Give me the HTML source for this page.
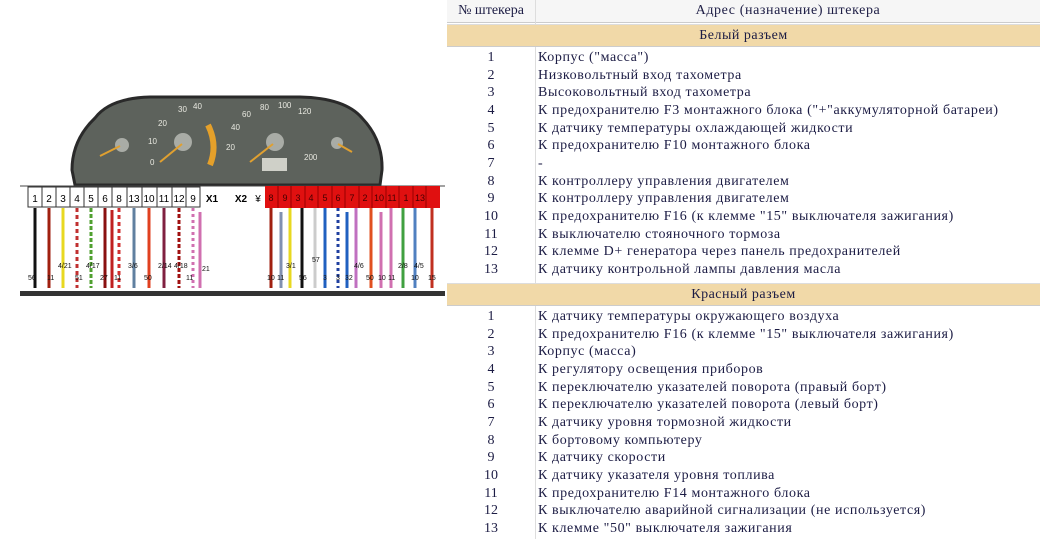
<!DOCTYPE html>
<html><head><meta charset="utf-8"><style>
body{margin:0;width:1040px;height:539px;background:#fff;position:relative;overflow:hidden;font-family:"Liberation Serif","DejaVu Serif",serif;color:#1c1c44}
.t{position:absolute;font-size:14px;letter-spacing:0.6px;line-height:17.67px;white-space:nowrap}
.n{position:absolute;left:447px;width:88px;text-align:center;font-size:14px;line-height:17.67px}
.band{position:absolute;left:447px;width:593px;height:21px;background:#f1d9a8;text-align:center;font-size:14px;letter-spacing:0.5px;line-height:21px;border-top:1px solid #ddd;border-bottom:1px solid #ccc}
</style></head><body>
<div style="position:absolute;left:447px;top:0;width:593px;height:22px;background:#f6f6f6;border-bottom:1px solid #ccc"></div>
<div style="position:absolute;left:535px;top:0;width:1px;height:539px;background:#ddd"></div>
<div class="t" style="left:447px;width:88px;text-align:center;top:2px;letter-spacing:0">№ штекера</div>
<div class="t" style="left:536px;width:504px;text-align:center;top:2px">Адрес (назначение) штекера</div>
<div class="band" style="top:24px">Белый разъем</div>
<div class="band" style="top:283px">Красный разъем</div>
<div style="position:absolute;top:49px;left:0">
<div class="n" style="top:0">1</div><div class="t" style="left:538px;top:0">Корпус ("масса")</div>
<div class="n" style="top:17.67px">2</div><div class="t" style="left:538px;top:17.67px">Низковольтный вход тахометра</div>
<div class="n" style="top:35.33px">3</div><div class="t" style="left:538px;top:35.33px">Высоковольтный вход тахометра</div>
<div class="n" style="top:53px">4</div><div class="t" style="left:538px;top:53px">К предохранителю F3 монтажного блока ("+"аккумуляторной батареи)</div>
<div class="n" style="top:70.67px">5</div><div class="t" style="left:538px;top:70.67px">К датчику температуры охлаждающей жидкости</div>
<div class="n" style="top:88.33px">6</div><div class="t" style="left:538px;top:88.33px">К предохранителю F10 монтажного блока</div>
<div class="n" style="top:106px">7</div><div class="t" style="left:538px;top:106px">-</div>
<div class="n" style="top:123.67px">8</div><div class="t" style="left:538px;top:123.67px">К контроллеру управления двигателем</div>
<div class="n" style="top:141.33px">9</div><div class="t" style="left:538px;top:141.33px">К контроллеру управления двигателем</div>
<div class="n" style="top:159px">10</div><div class="t" style="left:538px;top:159px">К предохранителю F16 (к клемме "15" выключателя зажигания)</div>
<div class="n" style="top:176.67px">11</div><div class="t" style="left:538px;top:176.67px">К выключателю стояночного тормоза</div>
<div class="n" style="top:194.33px">12</div><div class="t" style="left:538px;top:194.33px">К клемме D+ генератора через панель предохранителей</div>
<div class="n" style="top:212px">13</div><div class="t" style="left:538px;top:212px">К датчику контрольной лампы давления масла</div>
</div>
<div style="position:absolute;top:308px;left:0">
<div class="n" style="top:0">1</div><div class="t" style="left:538px;top:0">К датчику температуры окружающего воздуха</div>
<div class="n" style="top:17.67px">2</div><div class="t" style="left:538px;top:17.67px">К предохранителю F16 (к клемме "15" выключателя зажигания)</div>
<div class="n" style="top:35.33px">3</div><div class="t" style="left:538px;top:35.33px">Корпус (масса)</div>
<div class="n" style="top:53px">4</div><div class="t" style="left:538px;top:53px">К регулятору освещения приборов</div>
<div class="n" style="top:70.67px">5</div><div class="t" style="left:538px;top:70.67px">К переключателю указателей поворота (правый борт)</div>
<div class="n" style="top:88.33px">6</div><div class="t" style="left:538px;top:88.33px">К переключателю указателей поворота (левый борт)</div>
<div class="n" style="top:106px">7</div><div class="t" style="left:538px;top:106px">К датчику уровня тормозной жидкости</div>
<div class="n" style="top:123.67px">8</div><div class="t" style="left:538px;top:123.67px">К бортовому компьютеру</div>
<div class="n" style="top:141.33px">9</div><div class="t" style="left:538px;top:141.33px">К датчику скорости</div>
<div class="n" style="top:159px">10</div><div class="t" style="left:538px;top:159px">К датчику указателя уровня топлива</div>
<div class="n" style="top:176.67px">11</div><div class="t" style="left:538px;top:176.67px">К предохранителю F14 монтажного блока</div>
<div class="n" style="top:194.33px">12</div><div class="t" style="left:538px;top:194.33px">К выключателю аварийной сигнализации (не используется)</div>
<div class="n" style="top:212px">13</div><div class="t" style="left:538px;top:212px">К клемме "50" выключателя зажигания</div>
</div>
<svg style="position:absolute;left:0;top:0" width="447" height="539" font-family="Liberation Sans,sans-serif">
<path d="M75 185 L72 170 Q72 140 95 118 Q110 98 150 97 L300 97 Q345 98 362 118 Q383 140 382 170 L380 185 Z" fill="#5d625c" stroke="#2a2a2a" stroke-width="3"/>
<g fill="#a9aca6"><circle cx="122" cy="145" r="7"/><circle cx="183" cy="142" r="9"/><circle cx="275" cy="142" r="9"/><circle cx="337" cy="143" r="6"/></g>
<g stroke="#e0a030" stroke-width="2"><line x1="100" y1="156" x2="120" y2="146"/><line x1="160" y1="162" x2="182" y2="144"/><line x1="250" y1="162" x2="273" y2="144"/><line x1="338" y1="144" x2="352" y2="152"/></g>
<path d="M208 125 Q218 145 210 165" stroke="#e5a02a" stroke-width="6" fill="none"/>
<rect x="262" y="158" width="25" height="13" fill="#cfd0c8"/>
<g fill="#e8e8e0" font-size="8"><text x="150" y="165">0</text><text x="148" y="144">10</text><text x="158" y="126">20</text><text x="178" y="112">30</text><text x="193" y="109">40</text><text x="226" y="150">20</text><text x="231" y="130">40</text><text x="242" y="117">60</text><text x="260" y="110">80</text><text x="278" y="108">100</text><text x="298" y="114">120</text><text x="304" y="160">200</text></g>
<line x1="20" y1="186" x2="445" y2="186" stroke="#444"/>
<g font-size="10" text-anchor="middle">
<g fill="#fff" stroke="#333"><rect x="28" y="187" width="14" height="20"/><rect x="42" y="187" width="14" height="20"/><rect x="56" y="187" width="14" height="20"/><rect x="70" y="187" width="14" height="20"/><rect x="84" y="187" width="14" height="20"/><rect x="98" y="187" width="14" height="20"/><rect x="112" y="187" width="15" height="20"/><rect x="127" y="187" width="15" height="20"/><rect x="142" y="187" width="15" height="20"/><rect x="157" y="187" width="15" height="20"/><rect x="172" y="187" width="14" height="20"/><rect x="186" y="187" width="14" height="20"/></g>
<g fill="#000"><text x="35" y="202">1</text><text x="49" y="202">2</text><text x="63" y="202">3</text><text x="77" y="202">4</text><text x="91" y="202">5</text><text x="105" y="202">6</text><text x="119" y="202">8</text><text x="134" y="202">13</text><text x="149" y="202">10</text><text x="164" y="202">11</text><text x="179" y="202">12</text><text x="193" y="202">9</text><text x="212" y="202" font-weight="bold">X1</text><text x="241" y="202" font-weight="bold">X2</text><text x="258" y="202">¥</text></g>
<rect x="265" y="186" width="175" height="22" fill="#e01010"/>
<g stroke="#900" fill="none"><path d="M278 186v22M291 186v22M305 186v22M318 186v22M332 186v22M345 186v22M359 186v22M372 186v22M386 186v22M399 186v22M413 186v22M426 186v22"/></g>
<g fill="#400" font-size="9"><text x="271" y="201">8</text><text x="285" y="201">9</text><text x="298" y="201">3</text><text x="311" y="201">4</text><text x="325" y="201">5</text><text x="338" y="201">6</text><text x="352" y="201">7</text><text x="365" y="201">2</text><text x="379" y="201">10</text><text x="392" y="201">11</text><text x="406" y="201">1</text><text x="420" y="201">13</text></g>
</g>
<g stroke-width="3" fill="none">
<path d="M35 208v80" stroke="#111"/><path d="M49 208v80" stroke="#a02010"/><path d="M63 208v80" stroke="#e8d820"/><path d="M77 208v80" stroke="#c03030" stroke-dasharray="4 3"/><path d="M91 208v80" stroke="#50a030" stroke-dasharray="4 2"/><path d="M105 208v80" stroke="#8a1010"/><path d="M112 210v78" stroke="#c02020"/><path d="M119 208v80" stroke="#d03030" stroke-dasharray="4 3"/><path d="M134 208v80" stroke="#6080a0"/><path d="M149 208v80" stroke="#e04020"/><path d="M164 208v80" stroke="#802040"/><path d="M179 208v80" stroke="#a01010" stroke-dasharray="4 2"/><path d="M193 208v80" stroke="#d070b0" stroke-dasharray="3 3"/><path d="M200 212v76" stroke="#d070b0"/>
<path d="M271 208v80" stroke="#a02010"/><path d="M281 212v76" stroke="#8090b0"/><path d="M290 208v80" stroke="#e8d820"/><path d="M302 208v80" stroke="#111"/><path d="M315 208v80" stroke="#ccc"/><path d="M325 208v80" stroke="#2060c0"/><path d="M338 208v80" stroke="#2040a0" stroke-dasharray="3 3"/><path d="M347 212v76" stroke="#2060c0"/><path d="M356 208v80" stroke="#c070c0"/><path d="M371 208v80" stroke="#e05020"/><path d="M381 212v76" stroke="#d070b0"/><path d="M391 208v80" stroke="#d070b0"/><path d="M403 208v80" stroke="#40a040"/><path d="M415 208v80" stroke="#5080c0"/><path d="M432 208v80" stroke="#c03020"/>
</g>
<rect x="20" y="291" width="425" height="5" fill="#333"/>
<g font-size="7" fill="#111"><text x="28" y="280">56</text><text x="47" y="280">11</text><text x="58" y="268">4/21</text><text x="75" y="280">51</text><text x="86" y="268">4/17</text><text x="100" y="280">27</text><text x="114" y="280">11</text><text x="128" y="268">3/6</text><text x="144" y="280">50</text><text x="158" y="268">2/14</text><text x="174" y="268">4/18</text><text x="186" y="280">11</text><text x="202" y="271">21</text><text x="267" y="280">10</text><text x="277" y="280">11</text><text x="286" y="268">3/1</text><text x="299" y="280">56</text><text x="312" y="262">57</text><text x="323" y="280">3</text><text x="336" y="280">3</text><text x="345" y="280">32</text><text x="354" y="268">4/6</text><text x="366" y="280">50</text><text x="378" y="280">10</text><text x="388" y="280">11</text><text x="398" y="268">2/8</text><text x="411" y="280">10</text><text x="414" y="268">4/5</text><text x="428" y="280">15</text></g>
</svg>
</body></html>
